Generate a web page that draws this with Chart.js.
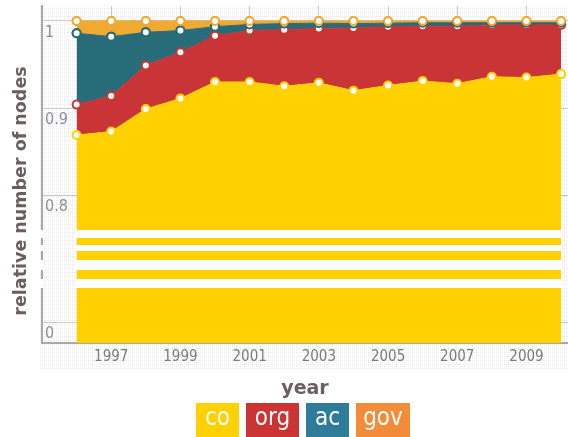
<!DOCTYPE html>
<html>
<head>
<meta charset="utf-8">
<script src="https://cdn.jsdelivr.net/npm/chart.js@4/dist/chart.umd.min.js"></script>
<style>
  body { margin: 0; background: #fff; }
  #wrap { position: relative; width: 568px; height: 437px; overflow: hidden; }
  #legend { position: absolute; top: 403px; left: 196px; display: flex; gap: 7px; }
  #legend div { height: 34px; line-height: 50px; color: #fff; text-align: center;
    font: 24px "DejaVu Sans Condensed", "DejaVu Sans", sans-serif; }
</style>
</head>
<body>
<div id="wrap">
  <canvas id="chart" width="568" height="437"></canvas>
  <div id="legend"></div>
</div>
<script>
const years = [1996, 1997, 1998, 1999, 2000, 2001, 2002, 2003, 2004, 2005, 2006, 2007, 2008, 2009, 2010];
// shares per domain (stacked, sums to 1)
const co  = [0.869, 0.873, 0.899, 0.911, 0.930, 0.930, 0.925, 0.929, 0.920, 0.926, 0.931, 0.928, 0.936, 0.935, 0.939];
const org = [0.035, 0.041, 0.050, 0.053, 0.053, 0.059, 0.065, 0.0625, 0.072, 0.0675, 0.063, 0.066, 0.0595, 0.0605, 0.0565];
const ac  = [0.082, 0.068, 0.038, 0.025, 0.0105, 0.007, 0.007, 0.006, 0.005, 0.004, 0.004, 0.004, 0.0025, 0.0025, 0.0025];
const gov = [0.014, 0.018, 0.013, 0.011, 0.0065, 0.004, 0.003, 0.0025, 0.003, 0.0025, 0.002, 0.002, 0.002, 0.002, 0.002];
const xTicks = [1997, 1999, 2001, 2003, 2005, 2007, 2009];
const yTicks = [0, 0.8, 0.9, 1];
const seriesNames = ['co', 'org', 'ac', 'gov'];

const areaColors = ['#ffd100', '#c93436', '#286b79', '#f0aa31'];
const legendColors = ['#ffd100', '#cc3333', '#2e7c99', '#f28c38'];

// broken y axis: upper part linear from max down to BRK, gap, compressed lower part
const BRK = 0.76;
const UPPER_END = 0.6647, LOWER_START = 0.8368, ZERO_AT = 0.9377;

class BrokenScale extends Chart.LinearScale {
  getPixelForValue(v) {
    const h = this.bottom - this.top;
    if (v >= BRK) return this.top + (this.max - v) / (this.max - BRK) * UPPER_END * h;
    return this.top + (LOWER_START + (BRK - v) / BRK * (ZERO_AT - LOWER_START)) * h;
  }
  getValueForPixel(p) {
    const f = (p - this.top) / (this.bottom - this.top);
    if (f <= UPPER_END) return this.max - f / UPPER_END * (this.max - BRK);
    return BRK - (f - LOWER_START) / (ZERO_AT - LOWER_START) * BRK;
  }
}
BrokenScale.id = 'broken';
BrokenScale.defaults = Chart.LinearScale.defaults;
Chart.register(BrokenScale);

function dotPattern(ctx) {
  const c = document.createElement('canvas');
  c.width = 4; c.height = 4;
  const g = c.getContext('2d');
  g.fillStyle = '#e6e6e6';
  g.fillRect(0, 0, 1, 1);
  g.fillRect(2, 0, 1, 1);
  g.fillRect(0, 2, 1, 1);
  return ctx.createPattern(c, 'repeat');
}

const background = {
  id: 'background',
  beforeDraw(chart) {
    const ctx = chart.ctx, a = chart.chartArea;
    ctx.save();
    ctx.fillStyle = dotPattern(ctx);
    ctx.fillRect(a.left - 2, a.top, a.right - a.left + 2, a.bottom - a.top + 27);
    ctx.restore();
  },
  afterDraw(chart) {
    // y title, sits a bit below the middle of the axis
    const ctx = chart.ctx;
    ctx.save();
    ctx.translate(21, 191);
    ctx.rotate(-Math.PI / 2);
    ctx.fillStyle = '#6b5e5e';
    ctx.font = 'bold 17.5px "DejaVu Sans"';
    ctx.textAlign = 'center';
    ctx.textBaseline = 'middle';
    ctx.fillText('relative number of nodes', 0, 0);
    ctx.restore();
  }
};

// white stripes that mark the axis break; upper series markers on top
const axisBreak = {
  id: 'axisBreak',
  afterDatasetsDraw(chart) {
    const ctx = chart.ctx, y = chart.scales.y, x = chart.scales.x;
    [2, 3].forEach(i => chart.getDatasetMeta(i).data.forEach(p => p.draw(ctx, chart.chartArea)));
    const g0 = y.getPixelForValue(BRK);
    const x0 = x.getPixelForValue(years[0]) - 1;
    const x1 = x.getPixelForValue(years[years.length - 1]) + 1;
    ctx.save();
    ctx.fillStyle = '#fff';
    [[0, 8], [15, 21], [30, 40], [49, 58]].forEach(([s, e]) => {
      ctx.fillRect(x0, g0 + s, x1 - x0, e - s);
      ctx.fillRect(y.right - 4, g0 + s, 6, e - s);
    });
    ctx.restore();
  }
};

const values = [co, org, ac, gov];
const datasets = seriesNames.map((name, i) => ({
  label: name,
  data: years.map((yr, j) => ({ x: yr, y: values[i][j] })),
  backgroundColor: areaColors[i],
  borderColor: areaColors[i],
  borderWidth: 1,
  fill: i === 0 ? 'start' : '-1',
  tension: 0,
  pointRadius: 4,
  pointBorderWidth: 2,
  pointBackgroundColor: '#fff',
  pointBorderColor: areaColors[i]
}));

new Chart(document.getElementById('chart'), {
  type: 'line',
  data: { datasets },
  plugins: [background, axisBreak],
  options: {
    responsive: false,
    animation: false,
    layout: { autoPadding: false, padding: { top: 6, right: 0, bottom: 37, left: 0 } },
    plugins: { legend: { display: false }, tooltip: { enabled: false } },
    scales: {
      x: {
        type: 'linear',
        min: 1995,
        max: 2010.2,
        afterBuildTicks: s => { s.ticks = xTicks.map(v => ({ value: v })); },
        afterFit: s => { s.height = 57; s.paddingLeft = 0; s.paddingRight = 0; },
        grid: { color: '#c8c8c8', borderDash: [2, 2], drawTicks: false },
        border: { color: '#a8a8a8', width: 2 },
        ticks: {
          padding: 5,
          color: '#7a7a7a',
          font: { family: '"DejaVu Sans Condensed", "DejaVu Sans"', size: 15 },
          callback: v => String(v)
        },
        title: {
          display: true, text: 'year', color: '#6b5e5e',
          font: { family: '"DejaVu Sans"', size: 19, weight: 'bold' },
          padding: { top: 0, bottom: 0 }
        }
      },
      y: {
        type: 'broken',
        stacked: true,
        min: 0,
        max: 1.0172,
        afterBuildTicks: s => { s.ticks = yTicks.map(v => ({ value: v })); },
        afterFit: s => { s.width = 42; s.paddingTop = 0; s.paddingBottom = 0; },
        grid: { color: '#c8c8c8', drawTicks: false },
        border: { color: '#a8a8a8', width: 2 },
        ticks: {
          mirror: true,
          padding: 3,
          labelOffset: 12,
          color: '#8b8e9a',
          font: { family: '"DejaVu Sans Condensed", "DejaVu Sans"', size: 16 },
          callback: v => String(v)
        }
      }
    }
  }
});

const legendWidths = [43, 53, 43, 54];
const legend = document.getElementById('legend');
seriesNames.forEach((name, i) => {
  const d = document.createElement('div');
  d.textContent = name;
  d.style.background = legendColors[i];
  d.style.width = legendWidths[i] + 'px';
  legend.appendChild(d);
});
</script>
</body>
</html>
